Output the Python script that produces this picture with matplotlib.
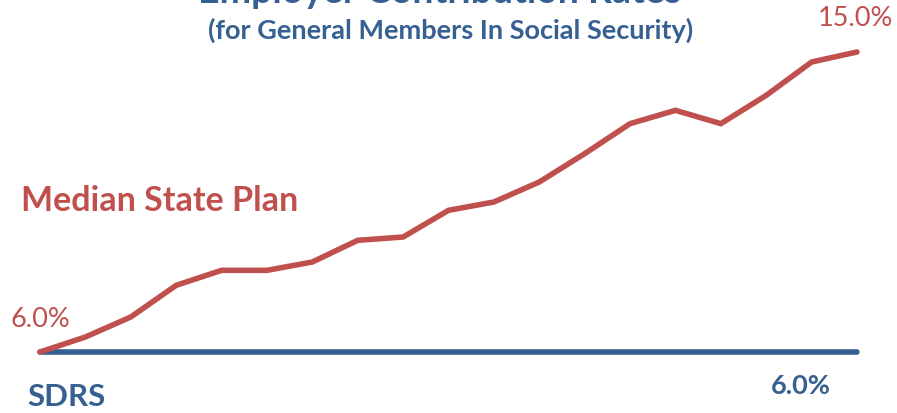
import matplotlib
matplotlib.use("Agg")
import matplotlib.pyplot as plt

# employer contribution rates (%)
periods = list(range(19))
median_state_plan = [6.0, 6.45, 7.05, 8.0, 8.45, 8.45, 8.7, 9.35, 9.45, 10.25,
                     10.5, 11.1, 11.95, 12.85, 13.25, 12.85, 13.7, 14.7, 15.0]
sdrs = [6.0] * 19

RED = "#C0504D"
BLUE = "#376092"
W, H = 897, 414

plt.rcParams['font.family'] = ['Lato', 'DejaVu Sans']

fig = plt.figure(figsize=(W / 100, H / 100), dpi=100)
ax = fig.add_axes([0, 0, 1, 1])

# map pixel frame: x=0 at 40px, x=18 at 857px; 6% at 353px, 15% at 53px
xs = (857 - 40) / 18
ys = (353 - 53) / 9
ax.set_xlim(-40 / xs, 18 + (W - 857) / xs)
ax.set_ylim(6 - (H - 353) / ys, 6 + 353 / ys)
ax.axis('off')

ax.plot(periods, sdrs, color=BLUE, lw=4, solid_capstyle='round', zorder=2)
ax.plot(periods, median_state_plan, color=RED, lw=4,
        solid_capstyle='round', solid_joinstyle='miter', zorder=3)


def fx(px):
    return px / W


def fy(py):
    return 1 - py / H


# title sits mostly above the top edge, as in the original slide crop
fig.text(fx(440), fy(3), "Employer Contribution Rates", color=BLUE,
         fontsize=27, fontweight='bold', ha='center', va='baseline')
fig.text(fx(451), fy(30), "(for General Members In Social Security)",
         color=BLUE, fontsize=19.5, fontweight='bold', ha='center', va='center')
fig.text(fx(21), fy(201), "Median State Plan", color=RED, fontsize=24.5,
         fontweight='bold', ha='left', va='center')
fig.text(fx(11), fy(320), "6.0%", color=RED, fontsize=19.5,
         ha='left', va='center')
fig.text(fx(855), fy(19), "15.0%", color=RED, fontsize=19.5,
         ha='center', va='center')
fig.text(fx(27), fy(397), "SDRS", color=BLUE, fontsize=22.5,
         fontweight='bold', ha='left', va='center')
fig.text(fx(801), fy(386), "6.0%", color=BLUE, fontsize=19.5,
         fontweight='bold', ha='center', va='center')

fig.savefig("out.png", dpi=100)
